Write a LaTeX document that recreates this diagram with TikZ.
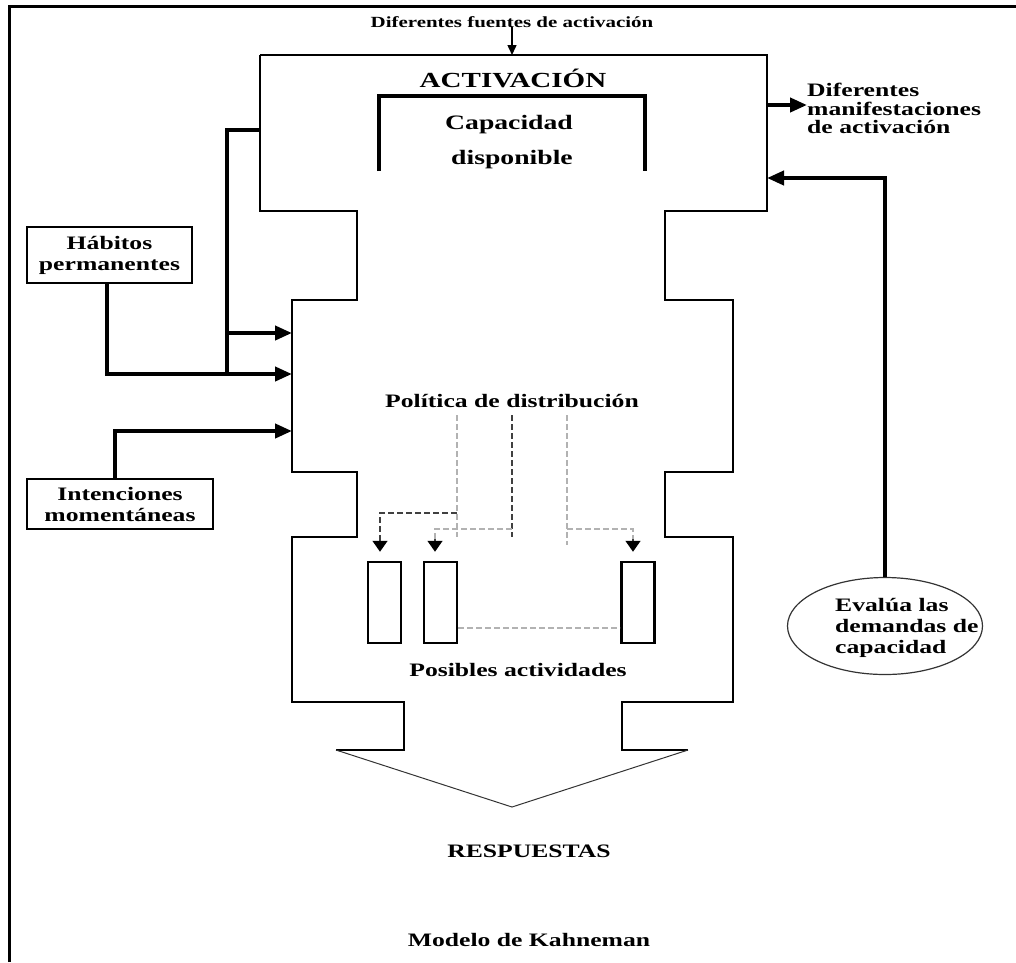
\documentclass[tikz,border=0pt]{standalone}
\usepackage{fontspec}
\newfontfamily\lblfont{Liberation Serif}[FakeStretch=1.35]
\usetikzlibrary{arrows.meta,shapes.geometric,calc}
\begin{document}
\begin{tikzpicture}[x=1pt,y=-1pt,
  lbl/.style={font=\lblfont\bfseries\fontsize{19}{21}\selectfont, inner sep=0pt},
  outline/.style={line width=2.5pt, line join=miter},
  feed/.style={line width=4pt},
  feedarrow/.style={feed, -{Triangle[length=17pt,width=14pt]}},
  inbox/.style={lbl, draw, line width=2.5pt, align=center},
  actbox/.style={draw, line width=2.5pt, minimum width=33pt, minimum height=81pt, inner sep=0pt},
  dgray/.style={gray!60, line width=1.5pt, dash pattern=on 6pt off 3pt},
  ddark/.style={black!75, line width=1.5pt, dash pattern=on 6pt off 3pt},
  dtip/.style={-{Triangle[length=11pt,width=15pt,fill=black,color=black]}},
]
\useasboundingbox (0,0) rectangle (1016,962);

% page frame
\draw[line width=3pt] (9,962) -- (9,6) -- (1016,6);

% outline of the capacity model
\draw[outline] (260,55) -- (767,55) -- (767,211) -- (665,211) -- (665,300)
  -- (733,300) -- (733,472) -- (665,472) -- (665,537) -- (733,537)
  -- (733,702) -- (622,702) -- (622,750) -- (688,750);
\draw[outline] (260,55) -- (260,211) -- (357,211) -- (357,300) -- (292,300)
  -- (292,472) -- (357,472) -- (357,537) -- (292,537) -- (292,702)
  -- (404,702) -- (404,750) -- (336,750);
\draw[line width=1pt, black!80] (336,750) -- (512,807) -- (688,750);

% inner bracket of the available capacity
\draw[line width=3.5pt] (379,171) |- (512,96) -| (645,171);

% anchor points on the outline
\coordinate (topIn) at (512,55);
\coordinate (outR) at (767,105);
\coordinate (inR) at (767,178);
\coordinate (actL) at (260,130);
\coordinate (jA) at (227,333);
\coordinate (jB) at (227,374);
\coordinate (inA) at (292,333);
\coordinate (inB) at (292,374);
\coordinate (inC) at (292,431);

% labels
\node[lbl, font=\lblfont\bfseries\fontsize{15.5}{18}\selectfont, anchor=base] (src) at (512,27) {Diferentes fuentes de activación};
\node[lbl, font=\lblfont\bfseries\fontsize{21.5}{24}\selectfont, anchor=base] (act) at (513,87) {ACTIVACIÓN};
\node[lbl, font=\lblfont\bfseries\fontsize{20.5}{24}\selectfont, anchor=base] (cap) at (509,129) {Capacidad};
\node[lbl, font=\lblfont\bfseries\fontsize{20.5}{24}\selectfont, anchor=base] (disp) at (512,164) {disponible};
\node[lbl, font=\lblfont\bfseries\fontsize{19}{18.5}\selectfont, align=left, anchor=north west] (man) at (807,83) {Diferentes\\manifestaciones\\de activación};
\node[lbl, anchor=base] (pol) at (512,407) {Política de distribución};
\node[lbl, anchor=base] (posib) at (518,676) {Posibles actividades};
\node[lbl, anchor=base] (resp) at (529,857) {RESPUESTAS};
\node[lbl, anchor=base] (model) at (529,946) {Modelo de Kahneman};

% input boxes
\node[inbox, minimum width=165pt, minimum height=56pt] (hab) at (109.5,255) {Hábitos\\permanentes};
\node[inbox, minimum width=186pt, minimum height=50pt] (int) at (120,504) {Intenciones\\momentáneas};

% evaluation of demands
\node[ellipse, draw, black!80, line width=1.2pt, minimum width=195pt, minimum height=97pt] (eval) at (885,626) {};
\node[lbl, align=left, anchor=north west] (evaltxt) at (835,598) {Evalúa las\\demandas de\\capacidad};

% possible activities
\node[actbox] (r1) at (384.5,602.5) {};
\node[actbox] (r2) at (440.5,602.5) {};
\node[actbox] (r3) at (638,602.5) {};

% connectors
\draw[line width=1.5pt, -{Triangle[length=10pt,width=9pt]}] (src.south) -- (topIn);
\draw[feedarrow] (outR) -- (outR -| man.west);
\draw[feedarrow] (eval.north) |- (inR);
\draw[feed] (actL) -| (jB);
\draw[feedarrow] ([xshift=-3pt]hab.south) |- (inB);
\draw[feedarrow] (jA) -- (inA);
\draw[feedarrow] ([xshift=-5pt]int.north) |- (inC);

% allocation policy
\draw[dgray] (457,415) -- (457,537);
\draw[ddark] (512,415) -- (512,537);
\draw[dgray] (567,415) -- (567,545);
\draw[ddark, dtip] (457,513) -| ([xshift=-4.5pt,yshift=9pt]r1.north);
\draw[dgray] (512,529) -| ([xshift=-5.5pt,yshift=22pt]r2.north);
\draw[ddark, dtip] ([xshift=-5.5pt,yshift=22pt]r2.north) -- ([xshift=-5.5pt,yshift=9pt]r2.north);
\draw[dgray] (567,529) -| ([xshift=-5pt,yshift=22pt]r3.north);
\draw[ddark, dtip] ([xshift=-5pt,yshift=22pt]r3.north) -- ([xshift=-5pt,yshift=9pt]r3.north);
\draw[dgray] ([yshift=-25.5pt]r2.east) -- ([yshift=-25.5pt]r3.west);
\end{tikzpicture}
\end{document}
